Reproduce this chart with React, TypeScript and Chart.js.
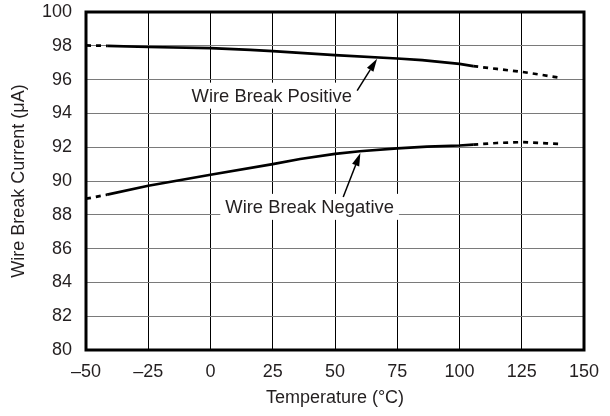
import React, { useEffect, useRef } from "react";
import { Chart, registerables } from "chart.js";

Chart.register(...registerables);

// ---- data ----
const positiveTemps = [-50, -41.5, -25, 0, 16, 25, 50, 75, 85, 100, 105.5, 115, 125, 140];
const positiveValues = [98.02, 98.0, 97.93, 97.86, 97.76, 97.69, 97.45, 97.25, 97.15, 96.93, 96.8, 96.63, 96.46, 96.12];

const negativeTemps = [-50, -41.5, -25, 0, 25, 36, 50, 60, 75, 87, 100, 105.5, 115, 125, 135, 140];
const negativeValues = [88.95, 89.19, 89.72, 90.37, 91.0, 91.3, 91.6, 91.76, 91.93, 92.03, 92.1, 92.15, 92.25, 92.3, 92.23, 92.2];

const xTickValues = [-50, -25, 0, 25, 50, 75, 100, 125, 150];
const yTickValues = [80, 82, 84, 86, 88, 90, 92, 94, 96, 98, 100];

const solidFrom = -41.5;
const solidTo = 105.5;

const xTitle = "Temperature (°C)";
const yTitle = "Wire Break Current (μA)";

const annotationLabels = ["Wire Break Positive", "Wire Break Negative"];
const annotationLabelX = [24.6, 39.8];
const annotationLabelY = [95.05, 88.47];
const annotationArrowFromX = [58.9, 53.3];
const annotationArrowFromY = [95.35, 89.05];
const annotationArrowToX = [66.9, 60.2];
const annotationArrowToY = [97.23, 91.66];

const FONT = "'Liberation Sans', Arial, Helvetica, sans-serif";
const TEXT = "#231f20";

const annotationPlugin = {
  id: "annots",
  afterDatasetsDraw(chart: any) {
    const { ctx, scales } = chart;
    const xs = scales.x;
    const ys = scales.y;
    ctx.save();
    ctx.font = `18.4px ${FONT}`;
    ctx.textBaseline = "middle";
    ctx.textAlign = "center";
    annotationLabels.forEach((label, i) => {
      const cx = xs.getPixelForValue(annotationLabelX[i]);
      const cy = ys.getPixelForValue(annotationLabelY[i]);
      const w = ctx.measureText(label).width;
      ctx.fillStyle = "#fff";
      ctx.fillRect(cx - w / 2 - 5, cy - 13, w + 10, 26);
      ctx.fillStyle = TEXT;
      ctx.fillText(label, cx, cy + 1);

      const x1 = xs.getPixelForValue(annotationArrowFromX[i]);
      const y1 = ys.getPixelForValue(annotationArrowFromY[i]);
      const x2 = xs.getPixelForValue(annotationArrowToX[i]);
      const y2 = ys.getPixelForValue(annotationArrowToY[i]);
      const ang = Math.atan2(y2 - y1, x2 - x1);
      const len = 13;
      const hw = 3.8;
      const bx = x2 - Math.cos(ang) * len;
      const by = y2 - Math.sin(ang) * len;
      ctx.strokeStyle = "#000";
      ctx.lineWidth = 1.5;
      ctx.beginPath();
      ctx.moveTo(x1, y1);
      ctx.lineTo(bx, by);
      ctx.stroke();
      ctx.fillStyle = "#000";
      ctx.beginPath();
      ctx.moveTo(x2, y2);
      ctx.lineTo(bx - Math.sin(ang) * hw, by + Math.cos(ang) * hw);
      ctx.lineTo(bx + Math.sin(ang) * hw, by - Math.cos(ang) * hw);
      ctx.closePath();
      ctx.fill();
    });
    ctx.restore();
  },
  afterDraw(chart: any) {
    const { ctx, chartArea } = chart;
    ctx.save();
    ctx.strokeStyle = "#000";
    ctx.lineWidth = 3;
    ctx.strokeRect(chartArea.left, chartArea.top, chartArea.right - chartArea.left, chartArea.bottom - chartArea.top);
    ctx.restore();
  },
};

function dashSeg(c: any) {
  return c.p0.parsed.x < solidFrom || c.p1.parsed.x > solidTo ? [5, 5] : undefined;
}

function formatTick(v: number) {
  return v < 0 ? "\u2013" + Math.abs(v) : String(v);
}

export default function App() {
  const ref = useRef<HTMLCanvasElement | null>(null);
  useEffect(() => {
    if (!ref.current) return;
    const chart = new Chart(ref.current, {
      type: "line",
      data: {
        datasets: [
          {
            label: "Wire Break Positive",
            data: positiveTemps.map((t, i) => ({ x: t, y: positiveValues[i] })),
            borderColor: "#000",
            borderWidth: 2.7,
            pointRadius: 0,
            fill: false,
            tension: 0,
            segment: { borderDash: dashSeg },
          },
          {
            label: "Wire Break Negative",
            data: negativeTemps.map((t, i) => ({ x: t, y: negativeValues[i] })),
            borderColor: "#000",
            borderWidth: 2.7,
            pointRadius: 0,
            fill: false,
            tension: 0,
            segment: { borderDash: dashSeg },
          },
        ],
      },
      options: {
        animation: false,
        responsive: true,
        maintainAspectRatio: false,
        layout: { padding: { top: 12, right: 26, left: 0, bottom: 0 } },
        plugins: { legend: { display: false }, tooltip: { enabled: false } },
        scales: {
          x: {
            type: "linear",
            min: -50,
            max: 150,
            afterBuildTicks: (s: any) => {
              s.ticks = xTickValues.map((v) => ({ value: v }));
            },
            afterFit: (s: any) => {
              s.height = 66;
              s.paddingLeft = 0;
              s.paddingRight = 0;
            },
            ticks: {
              callback: (v: any) => formatTick(Number(v)),
              font: { family: FONT, size: 18 },
              color: TEXT,
              padding: 11,
              maxRotation: 0,
            },
            grid: { color: "#000", lineWidth: 1, drawTicks: false },
            border: { display: false },
            title: {
              display: true,
              text: xTitle,
              font: { family: FONT, size: 18 },
              color: TEXT,
              padding: { top: 0, bottom: 7 },
            },
          },
          y: {
            type: "linear",
            min: 80,
            max: 100,
            afterBuildTicks: (s: any) => {
              s.ticks = yTickValues.map((v) => ({ value: v }));
            },
            afterFit: (s: any) => {
              s.width = 86;
              s.paddingTop = 0;
              s.paddingBottom = 0;
            },
            ticks: {
              font: { family: FONT, size: 18 },
              color: TEXT,
              padding: 14,
            },
            grid: { color: "#7a7a7a", lineWidth: 1, drawTicks: false },
            border: { display: false },
            title: {
              display: true,
              text: yTitle,
              font: { family: FONT, size: 18 },
              color: TEXT,
              padding: { top: 8, bottom: 0 },
            },
          },
        },
      },
      plugins: [annotationPlugin],
    });
    return () => chart.destroy();
  }, []);

  return (
    <div style={{ position: "fixed", left: 0, top: 0, width: 610, height: 416, background: "#fff" }}>
      <canvas ref={ref} />
    </div>
  );
}
